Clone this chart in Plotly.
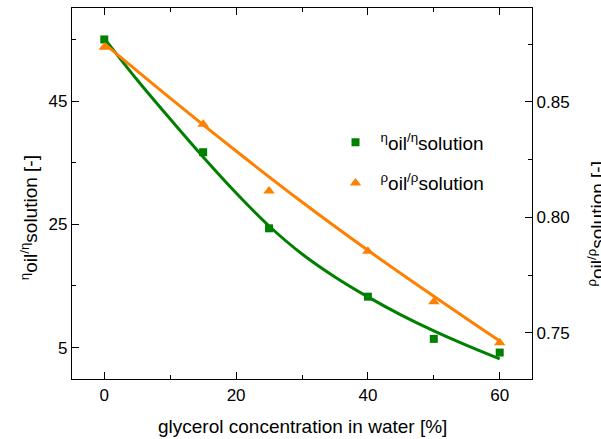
import plotly.graph_objects as go

# measured data
conc = [0, 15, 25, 40, 50, 60]
eta_ratio = [55.0, 36.7, 24.35, 13.26, 6.41, 4.19]
rho_ratio = [0.8736, 0.8403, 0.8114, 0.7853, 0.7634, 0.7457]

# fitted curves
eta_fit_conc = [0, 5, 10, 15, 20, 25, 30, 35, 40, 45, 50, 55, 60]
eta_fit = [55.17, 48.41, 42.08, 35.92, 30.08, 24.73, 20.19, 16.46, 13.22, 10.30, 7.70, 5.35, 3.16]
rho_fit_conc = [0, 10, 20, 30, 40, 50, 60]
rho_fit = [0.8752, 0.8516, 0.8287, 0.8066, 0.7857, 0.7658, 0.7464]

x_ticks = [0, 20, 40, 60]
eta_ticks = [5, 25, 45]
rho_ticks = [0.75, 0.80, 0.85]

GREEN = "#008000"
ORANGE = "#FF8000"
FONT = "Liberation Sans, Arial, sans-serif"

fig = go.Figure()
fig.add_trace(go.Scatter(x=eta_fit_conc, y=eta_fit, mode="lines", line=dict(color=GREEN, width=3, shape="spline"),
                         showlegend=False, yaxis="y"))
fig.add_trace(go.Scatter(x=rho_fit_conc, y=rho_fit, mode="lines", line=dict(color=ORANGE, width=3, shape="spline"),
                         showlegend=False, yaxis="y2"))
fig.add_trace(go.Scatter(x=conc, y=eta_ratio, mode="markers",
                         marker=dict(symbol="square", size=8, color=GREEN),
                         name="<sup>η</sup>oil<sup>/η</sup>solution", legendgroup="a", yaxis="y"))
fig.add_trace(go.Scatter(x=conc, y=rho_ratio, mode="markers",
                         marker=dict(symbol="triangle-up", size=10, color=ORANGE),
                         name="<sup>ρ</sup>oil<sup>/ρ</sup>solution", legendgroup="b", yaxis="y2"))

axis_common = dict(showline=True, linecolor="black", linewidth=1.3, ticks="inside", ticklen=7,
                   tickwidth=1.3, tickcolor="black", showgrid=False, zeroline=False,
                   tickfont=dict(family=FONT, size=17, color="black"))

fig.update_layout(
    width=601, height=439,
    margin=dict(l=72, r=69, t=8, b=60),
    paper_bgcolor="white", plot_bgcolor="white",
    font=dict(family=FONT, size=19, color="black"),
    xaxis=dict(range=[-4.9, 64.9], tickvals=x_ticks, mirror="ticks",
               minor=dict(dtick=10, tick0=0, ticks="inside", ticklen=4, tickcolor="black", tickwidth=1.3),
               **axis_common),
    yaxis=dict(range=[-0.1, 60.1], tickvals=eta_ticks,
               minor=dict(dtick=10, tick0=5, ticks="inside", ticklen=4, tickcolor="black", tickwidth=1.3),
               **axis_common),
    yaxis2=dict(range=[0.730, 0.8906], tickvals=rho_ticks, tickformat=".2f", overlaying="y", side="right",
                minor=dict(dtick=0.025, tick0=0.75, ticks="inside", ticklen=4, tickcolor="black", tickwidth=1.3),
                **axis_common),
    legend=dict(x=0.562, y=0.689, xanchor="left", yanchor="top", bgcolor="rgba(0,0,0,0)",
                itemwidth=40, tracegroupgap=13, font=dict(family=FONT, size=19)),
    annotations=[
        dict(text="glycerol concentration in water [%]", xref="paper", yref="paper", x=0.5, y=-0.129,
             xanchor="center", yanchor="middle", showarrow=False, font=dict(family=FONT, size=19)),
        dict(text="<sup>η</sup>oil<sup>/η</sup>solution [-]", xref="paper", yref="paper", x=-0.093, y=0.434,
             xanchor="center", yanchor="middle", textangle=-90, showarrow=False, font=dict(family=FONT, size=19)),
        dict(text="<sup>ρ</sup>oil<sup>/ρ</sup>solution [-]", xref="paper", yref="paper", x=1.14, y=0.42,
             xanchor="center", yanchor="middle", textangle=-90, showarrow=False, font=dict(family=FONT, size=19)),
    ],
)

fig.write_html("out.html")
